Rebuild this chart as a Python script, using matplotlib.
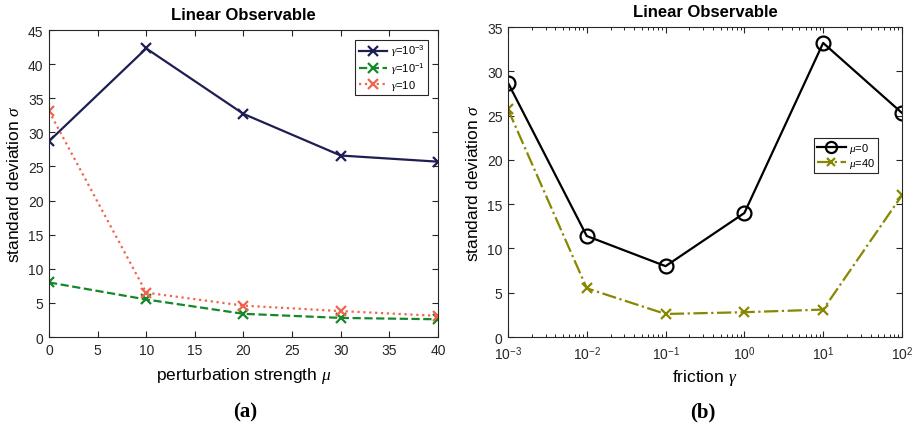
import matplotlib
matplotlib.use("Agg")
import matplotlib.pyplot as plt
from matplotlib.ticker import FixedLocator, FixedFormatter

plt.rcParams['font.family'] = ['Liberation Sans', 'DejaVu Sans']
plt.rcParams['mathtext.fontset'] = 'custom'
plt.rcParams['mathtext.rm'] = 'Liberation Sans'
plt.rcParams['mathtext.it'] = 'Liberation Serif:italic'

# panel (a)
mu = [0, 10, 20, 30, 40]
sd_g1e3 = [28.7, 42.3, 32.7, 26.6, 25.7]
sd_g1e1 = [8.0, 5.5, 3.4, 2.8, 2.6]
sd_g10 = [33.1, 6.5, 4.6, 3.8, 3.1]

# panel (b)
gamma = [1e-3, 1e-2, 1e-1, 1e0, 1e1, 1e2]
gamma_ticks = ['10$^{-3}$', '10$^{-2}$', '10$^{-1}$', '10$^{0}$', '10$^{1}$', '10$^{2}$']
sd_mu0 = [28.7, 11.4, 8.0, 14.0, 33.2, 25.3]
sd_mu40 = [25.7, 5.5, 2.6, 2.8, 3.1, 16.0]

fig = plt.figure(figsize=(9.14, 4.27), dpi=100)
ax1 = fig.add_axes([0.0536, 0.2084, 0.4256, 0.719])
ax2 = fig.add_axes([0.5558, 0.2084, 0.431, 0.726])

def style(ax):
    ax.tick_params(direction='in', top=True, right=True, labelsize=10, length=4,
                   colors='#262626', pad=4)
    ax.tick_params(which='minor', direction='in', top=True, right=True, length=2)
    for s in ax.spines.values():
        s.set_linewidth(0.8)
        s.set_color('#262626')

ax1.plot(mu, sd_g1e3, '-x', color='#1e1e55', lw=1.6, ms=7.5, mew=1.6, label=r'$\gamma$=10$^{-3}$')
ax1.plot(mu, sd_g1e1, '--x', color='#15882a', lw=1.6, ms=7.5, mew=1.6, label=r'$\gamma$=10$^{-1}$')
ax1.plot(mu, sd_g10, ':x', color='#f2634e', lw=1.6, ms=7.5, mew=1.6, label=r'$\gamma$=10')
ax1.set_xlim(0, 40)
ax1.set_ylim(0, 45)
ax1.set_xticks(range(0, 41, 5))
ax1.set_yticks(range(0, 46, 5))
style(ax1)
ax1.set_title('Linear Observable', fontsize=12, fontweight='bold', pad=8)
ax1.set_xlabel(r'perturbation strength $\mu$', fontsize=12.5, labelpad=6)
ax1.set_ylabel(r'standard deviation $\sigma$', fontsize=12.5, labelpad=4)
leg1 = ax1.legend(loc='upper right', fontsize=8, fancybox=False, edgecolor='#262626',
                  handlelength=2.6, handletextpad=0.3, labelspacing=0.2,
                  borderpad=0.3, borderaxespad=0.9, framealpha=1)
leg1.get_frame().set_linewidth(0.8)

ax2.plot(gamma, sd_mu0, '-o', color='black', lw=1.6, ms=10, mfc='none', mew=1.6, label=r'$\mu$=0')
ax2.plot(gamma, sd_mu40, '-.x', color='#878700', lw=1.6, ms=7.5, mew=1.6, label=r'$\mu$=40')
ax2.set_xscale('log')
ax2.set_xlim(1e-3, 1e2)
ax2.set_ylim(0, 35)
ax2.set_yticks(range(0, 36, 5))
ax2.xaxis.set_major_locator(FixedLocator(gamma))
ax2.xaxis.set_major_formatter(FixedFormatter(gamma_ticks))
style(ax2)
ax2.tick_params(axis='x', pad=5)
ax2.set_title('Linear Observable', fontsize=12, fontweight='bold', pad=8)
ax2.set_xlabel(r'friction $\gamma$', fontsize=12.5, labelpad=4)
ax2.set_ylabel(r'standard deviation $\sigma$', fontsize=12.5, labelpad=4)
leg2 = ax2.legend(loc='upper right', bbox_to_anchor=(0.939, 0.642), borderaxespad=0,
                  fontsize=8, fancybox=False, edgecolor='#262626', handlelength=2.6,
                  handletextpad=0.3, labelspacing=0.1, borderpad=0.25, framealpha=1,
                  markerscale=0.8)
leg2.get_frame().set_linewidth(0.8)

fig.text(0.268, 0.035, '(a)', ha='center', va='center', fontsize=15, fontweight='bold',
         family=['Liberation Serif', 'DejaVu Serif'])
fig.text(0.769, 0.035, '(b)', ha='center', va='center', fontsize=15, fontweight='bold',
         family=['Liberation Serif', 'DejaVu Serif'])

fig.savefig('out.png', dpi=100)
